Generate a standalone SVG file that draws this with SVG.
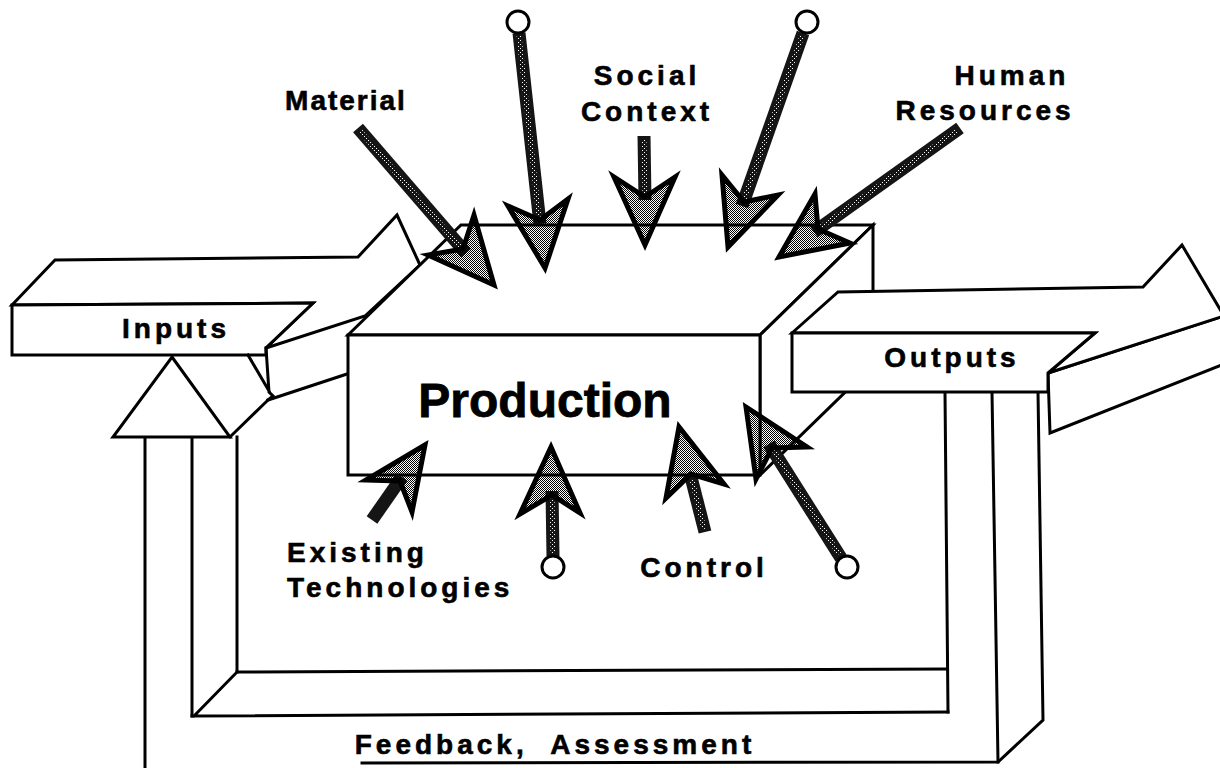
<svg xmlns="http://www.w3.org/2000/svg" width="1220" height="768" viewBox="0 0 1220 768">
  <defs>
    <!-- 50% dot screen used inside the arrowheads -->
    <pattern id="stipple" width="2" height="2" patternUnits="userSpaceOnUse">
      <rect x="0" y="0" width="1" height="1" fill="#000"/>
      <rect x="1" y="1" width="1" height="1" fill="#000"/>
    </pattern>
    <!-- light specks on the dark arrow shafts -->
    <pattern id="speck" width="4" height="4" patternUnits="userSpaceOnUse">
      <rect x="0" y="0" width="1" height="1" fill="#fff"/>
      <rect x="2" y="2" width="1" height="1" fill="#fff"/>
    </pattern>
  </defs>
  <style>
    .ln { fill: none; stroke: #000; stroke-width: 3; stroke-linejoin: miter; stroke-linecap: square; }
    .face { fill: #fff; stroke: #000; stroke-width: 3; stroke-linejoin: miter; }
    .lbl { font-family: "Liberation Sans", Arial, Helvetica, sans-serif; font-weight: bold; font-size: 28px; letter-spacing: 4px; fill: #000; stroke: #000; stroke-width: 0.6px; }
    .big { font-size: 48px; letter-spacing: 0; stroke-width: 0.8px; }
    .tight { letter-spacing: 2px; }
    .shaft { fill: none; stroke: #151515; stroke-width: 13; stroke-linecap: butt; }
    .core { fill: none; stroke: url(#speck); stroke-width: 5; stroke-linecap: butt; }
    .head { fill: url(#stipple); stroke: #000; stroke-width: 5; stroke-linejoin: miter; }
    .ring { fill: #fff; stroke: #000; stroke-width: 3; }
  </style>

  <rect width="1220" height="768" fill="#fff"/>

  <!-- feedback channel running from the outputs back to the inputs -->
  <g id="feedback">
    <path class="ln" d="M145 437 V768"/>
    <path class="ln" d="M192 437 V716"/>
    <path class="ln" d="M237 437 V672"/>
    <path class="ln" d="M237 672 L947 669 M237 672 L194 716 M192 716 L948 712"/>
    <path class="ln" d="M945 392 L948 712"/>
    <path class="ln" d="M992 392 L998 762"/>
    <path class="ln" d="M1038 392 L1043 720 L998 762 L362 763"/>
    <text class="lbl" x="555" y="754" text-anchor="middle" style="white-space:pre">Feedback,  Assessment</text>
  </g>

  <!-- support triangle under the inputs arrow -->
  <g id="support">
    <path class="face" d="M172 357 L230 437 L113 437 Z"/>
  </g>

  <!-- inputs block arrow -->
  <g id="inputs">
    <path class="face" d="M12 305 L55 260 L358 257 L397 215 L420 265 L365 316 L266 348 L313 303 Z"/>
    <path class="face" d="M12 305 L313 303 L266 348 L266 355 L12 355 Z"/>
    <path class="ln" d="M266 348 L269 392 L273 396 L268 400 M248 355 L269 391"/>
    <path class="ln" d="M268 400 L347 374 M268 400 L230 437"/>
    <text class="lbl" x="176" y="338" text-anchor="middle">Inputs</text>
  </g>

  <!-- production block -->
  <g id="production">
    <path class="face" d="M348 335 L461 225 L873 225 L760 335 Z"/>
    <path class="face" d="M760 335 L873 225 L873 365 L760 475 Z"/>
    <rect class="face" x="348" y="335" width="412" height="140"/>
    <text class="lbl big" x="545" y="417" text-anchor="middle">Production</text>
  </g>

  <!-- outputs block arrow -->
  <g id="outputs">
    <path class="face" d="M1048 373 L1224 316 L1224 364 L1050 433 Z"/>
    <path class="face" d="M792 333 L838 292 L1143 287 L1182 245 L1224 316 L1048 373 L1095 333 Z"/>
    <path class="face" d="M792 333 L1095 333 L1048 373 L1048 392 L792 392 Z"/>
    <text class="lbl" x="952" y="367" text-anchor="middle">Outputs</text>
  </g>

  <!-- influence arrows -->
  <g id="connectors">
    <!-- Material -->
    <path class="shaft" d="M358 128 L466 253"/>
    <path class="core" d="M360 131 L462 249"/>
    <polygon class="head" points="494,285 428,255 463,249 474,215"/>
    <!-- top left, from circle -->
    <path class="shaft" d="M519 33 L540 224"/>
    <path class="core" d="M519 36 L539 218"/>
    <polygon class="head" points="545,268 508,206 540,220 568,199"/>
    <circle class="ring" cx="518" cy="22" r="11"/>
    <!-- Social Context -->
    <path class="shaft" d="M644 136 L645 200"/>
    <path class="core" d="M644 139 L645 196"/>
    <polygon class="head" points="645,245 614,177 645,197 675,177"/>
    <!-- top right, from circle -->
    <path class="shaft" d="M803 33 L742 206"/>
    <path class="core" d="M802 36 L744 200"/>
    <polygon class="head" points="728,247 722,175 744,202 778,195"/>
    <circle class="ring" cx="807" cy="22" r="11"/>
    <!-- Human Resources -->
    <path class="shaft" d="M960 128 L814 232"/>
    <path class="core" d="M956 131 L818 229"/>
    <polygon class="head" points="779,257 815,194 818,229 850,243"/>

    <!-- Existing Technologies -->
    <path class="shaft" d="M372 520 L402 477"/>
    <polygon class="head" points="425,445 366,480 400,481 412,512"/>
    <!-- bottom centre, from circle -->
    <path class="shaft" d="M553 556 L552 491"/>
    <path class="core" d="M553 553 L552 494"/>
    <polygon class="head" points="551,447 520,514 552,495 580,513"/>
    <circle class="ring" cx="553" cy="567" r="11"/>
    <!-- Control -->
    <path class="shaft" d="M705 532 L691 477"/>
    <path class="core" d="M704 529 L692 480"/>
    <polygon class="head" points="679,427 666,498 691,474 724,484"/>
    <!-- bottom right, from circle -->
    <path class="shaft" d="M841 558 L769 444"/>
    <path class="core" d="M839 554 L771 447"/>
    <polygon class="head" points="746,407 756,479 772,448 807,447"/>
    <circle class="ring" cx="847" cy="567" r="11"/>
  </g>

  <!-- free-standing labels -->
  <g id="labels">
    <text class="lbl tight" x="346" y="110" text-anchor="middle">Material</text>
    <text class="lbl" x="647" y="85" text-anchor="middle">Social</text>
    <text class="lbl" x="647" y="121" text-anchor="middle">Context</text>
    <text class="lbl" x="1012" y="85" text-anchor="middle">Human</text>
    <text class="lbl" x="985" y="120" text-anchor="middle">Resources</text>
    <text class="lbl" x="287" y="562">Existing</text>
    <text class="lbl" x="287" y="597">Technologies</text>
    <text class="lbl" x="704" y="577" text-anchor="middle">Control</text>
  </g>
</svg>
